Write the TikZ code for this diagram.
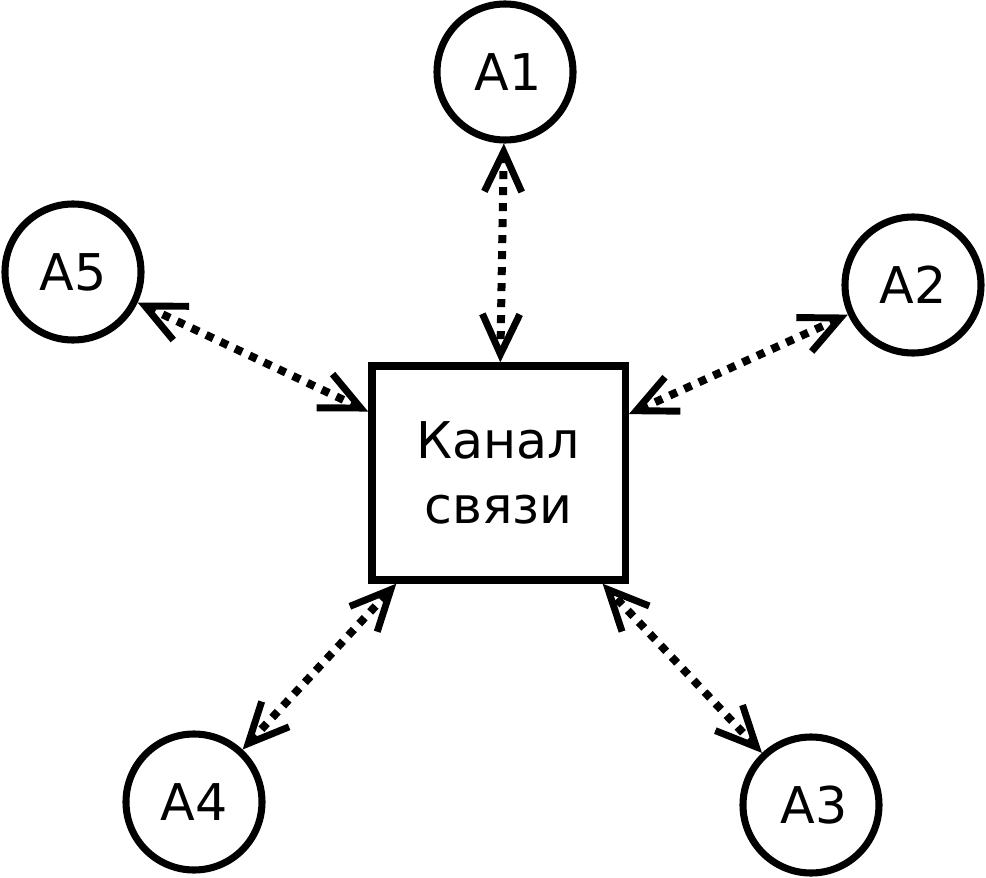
\documentclass[tikz,border=0pt]{standalone}
\usepackage{fontspec}
\setmainfont{DejaVu Sans}
\usetikzlibrary{arrows.meta}
\begin{document}
\begin{tikzpicture}[x=0.75pt,y=-0.75pt,
  agent/.style={circle,draw,line width=5.3pt,minimum size=102pt,inner sep=0pt,
    font=\fontsize{38}{46}\selectfont},
  chan/.style={rectangle,draw,line width=5.5pt,minimum width=190pt,minimum height=160.5pt,
    inner sep=0pt,align=center,font=\fontsize{38}{49}\selectfont},
  barb/.tip={Straight Barb[length=30pt,width=28pt,line width=5.2pt,line cap=butt,line join=miter]},
  link/.style={line width=6pt,dash pattern=on 6pt off 6pt,line cap=butt,
    {barb}-{barb}}
]
\useasboundingbox (0,0) rectangle (986,878);
\node[chan] (box) at (498.5,473) {Канал\\связи};
\node[agent] (a1) at (505,72) {\hspace{5pt}A1};
\node[agent] (a2) at (913,285) {A2};
\node[agent] (a3) at (811,805) {\hspace{5pt}A3};
\node[agent] (a4) at (194,802) {A4};
\node[agent] (a5) at (73,272) {A5};
\draw[link] (a1) -- (box);
\draw[link] (a2) -- (box);
\draw[link] (a3) -- (box);
\draw[link] (a4) -- (box);
\draw[link] (a5) -- (box);
\end{tikzpicture}
\end{document}
